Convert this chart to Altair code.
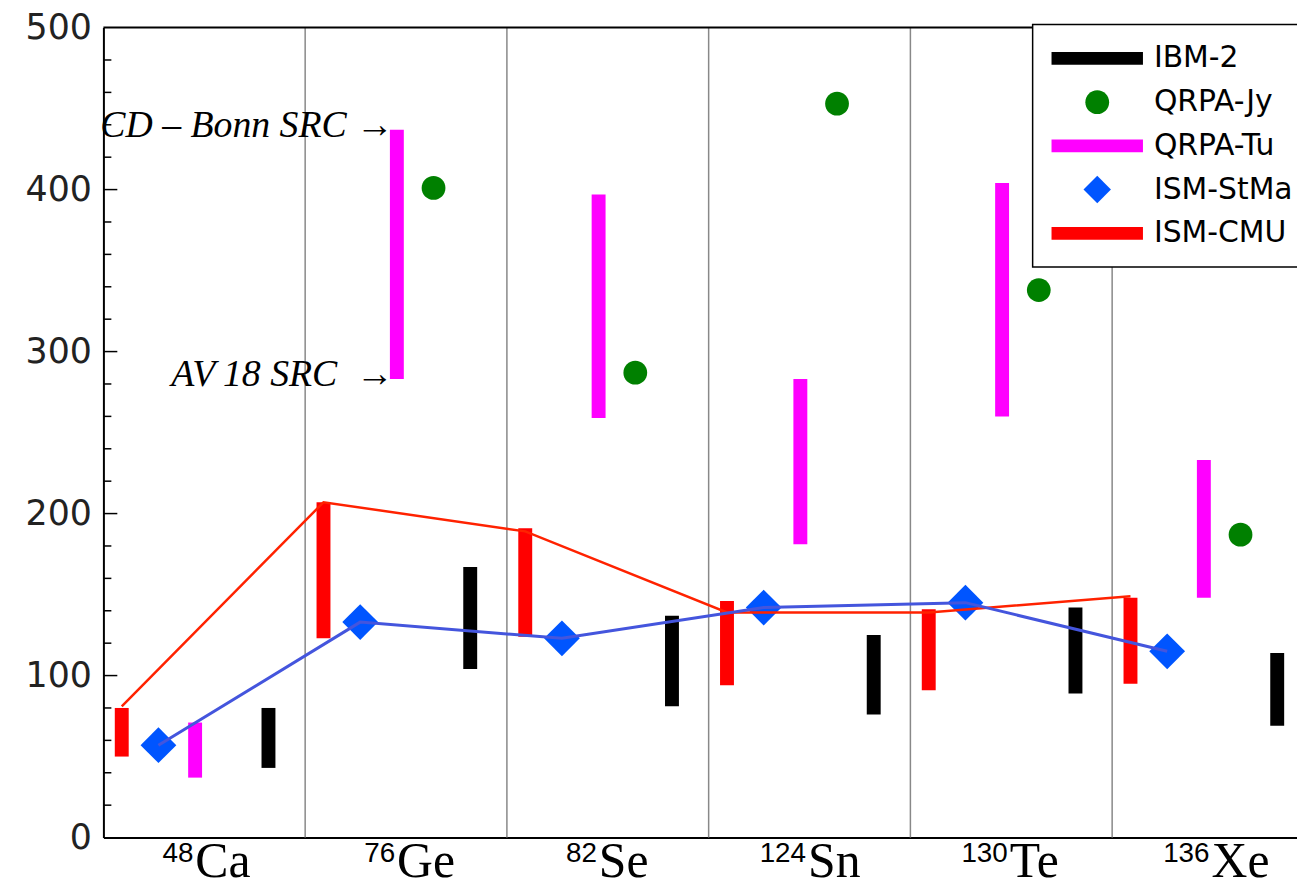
import altair as alt
import pandas as pd

# ---------------- data ----------------
nuclei = ["Ca", "Ge", "Se", "Sn", "Te", "Xe"]
mass_numbers = ["48", "76", "82", "124", "130", "136"]

series_names = ["IBM-2", "QRPA-Jy", "QRPA-Tu", "ISM-StMa", "ISM-CMU"]
series_colors = ["#000000", "#008000", "#ff00ff", "#0055ff", "#ff0000"]

ibm2_low = [43, 104, 81, 76, 89, 69]
ibm2_high = [80, 167, 137, 125, 142, 114]
qrpa_jy = [None, 401, 287, 453, 338, 187]
qrpa_tu_low = [37, 283, 259, 181, 260, 148]
qrpa_tu_high = [71, 437, 397, 283, 404, 233]
ism_stma = [57, 133, 123, 142, 145, 115]
ism_cmu_low = [50, 123, 124, 94, 91, 95]
ism_cmu_high = [80, 207, 191, 146, 141, 148]
ism_cmu_line = [81, 207, 189, 139, 139, 149]

annotations = ["CD \u2013 Bonn SRC \u2192", "AV\u200918\u00a0SRC\u00a0\u00a0\u2192"]

# ---------------- layout helpers ----------------
W, H = 1201, 815
PX_PER_CAT = 203
slot = {"ISM-CMU": 0, "ISM-StMa": 1, "QRPA-Tu": 2, "QRPA-Jy": 3, "IBM-2": 4}
SLOTS = 5.5


def xpos(i, name):
    return i + (slot[name] + 0.5) / SLOTS


range_rows = []
for name, lo, hi in [("IBM-2", ibm2_low, ibm2_high),
                     ("QRPA-Tu", qrpa_tu_low, qrpa_tu_high),
                     ("ISM-CMU", ism_cmu_low, ism_cmu_high)]:
    for i in range(len(nuclei)):
        range_rows.append({"series": name, "x": xpos(i, name), "low": lo[i], "high": hi[i]})
range_df = pd.DataFrame(range_rows)

point_rows = []
for i, v in enumerate(qrpa_jy):
    if v is not None:
        point_rows.append({"series": "QRPA-Jy", "x": xpos(i, "QRPA-Jy"), "y": v})
for i, v in enumerate(ism_stma):
    point_rows.append({"series": "ISM-StMa", "x": xpos(i, "ISM-StMa"), "y": v})
point_df = pd.DataFrame(point_rows)
stma_df = point_df[point_df.series == "ISM-StMa"]

cmu_line_df = pd.DataFrame({"x": [xpos(i, "ISM-CMU") for i in range(6)], "y": ism_cmu_line})
stma_line_df = pd.DataFrame({"x": [xpos(i, "ISM-StMa") for i in range(6)], "y": ism_stma})

bounds_df = pd.DataFrame({"b": list(range(1, len(nuclei)))})
minor_df = pd.DataFrame({"v": [v for v in range(20, 500, 20) if v % 100]})
major_df = pd.DataFrame({"v": [100, 200, 300, 400]})

label_df = pd.DataFrame({"i": list(range(6)), "mass": mass_numbers, "nuc": nuclei})

annot_df = pd.DataFrame({"label": annotations,
                         "x": [xpos(1, "QRPA-Tu")] * 2,
                         "y": [qrpa_tu_high[1], qrpa_tu_low[1]]})

# ---------------- scales / axes ----------------
xs = alt.Scale(domain=[0, W / PX_PER_CAT], nice=False, zero=False)
ys = alt.Scale(domain=[0, 500], nice=False, zero=False)
x_axis = alt.Axis(title=None, labels=False, ticks=False, grid=False,
                  domainColor="black", domainWidth=2)
y_axis = alt.Axis(title=None, values=[0, 100, 200, 300, 400, 500], ticks=False, grid=False,
                  labelFont="DejaVu Sans", labelFontSize=35, labelColor="#222222",
                  labelPadding=12, labelFlush=False, domainColor="black", domainWidth=2)


def X(field):
    return alt.X(field, type="quantitative", scale=xs, axis=x_axis)


def Y(field):
    return alt.Y(field, type="quantitative", scale=ys, axis=y_axis)


shape_paths = [
    "M-1,-0.14L1,-0.14L1,0.14L-1,0.14Z",
    "M0.26,0A0.26,0.26,0,1,1,-0.26,0A0.26,0.26,0,1,1,0.26,0Z",
    "M-1,-0.14L1,-0.14L1,0.14L-1,0.14Z",
    "M0,-0.3L0.3,0L0,0.3L-0.3,0Z",
    "M-1,-0.14L1,-0.14L1,0.14L-1,0.14Z",
]
color_scale = alt.Scale(domain=series_names, range=series_colors)
shape_scale = alt.Scale(domain=series_names, range=shape_paths)

legend = alt.Legend(title=None, orient="none", legendX=935, legendY=-3,
                    symbolSize=8464, clipHeight=44, rowPadding=0,
                    labelFont="DejaVu Sans", labelFontSize=30, labelColor="black",
                    labelOffset=11, labelLimit=500, padding=12, symbolOffset=7,
                    strokeColor="black", fillColor="white", symbolStrokeWidth=0,
                    symbolOpacity=1)

# ---------------- layers ----------------
grid = alt.Chart(bounds_df).mark_rule(color="#888888", strokeWidth=1.5).encode(
    x=X("b"), y=alt.Y(datum=0, scale=ys, axis=y_axis), y2=alt.Y2(datum=500))

top_frame = alt.Chart(bounds_df.head(1)).mark_rule(color="black", strokeWidth=2).encode(
    y=alt.Y(datum=500, scale=ys, axis=y_axis))

minor_ticks = alt.Chart(minor_df).mark_rule(color="black", strokeWidth=1.5).encode(
    y=Y("v"), x=alt.value(0), x2=alt.value(8))
major_ticks = alt.Chart(major_df).mark_rule(color="black", strokeWidth=1.5).encode(
    y=Y("v"), x=alt.value(0), x2=alt.value(14))

# points layer carries the legend (color + shape merged)
points = alt.Chart(point_df).mark_point(filled=True, size=8464, opacity=1, strokeWidth=0).encode(
    x=X("x"), y=Y("y"),
    color=alt.Color("series:N", scale=color_scale, legend=legend),
    shape=alt.Shape("series:N", scale=shape_scale, legend=legend))

bars = alt.Chart(range_df).mark_rule(strokeWidth=14, strokeCap="butt").encode(
    x=X("x"), y=Y("low"), y2="high",
    color=alt.Color("series:N", scale=color_scale, legend=legend))

diamonds = alt.Chart(stma_df).mark_point(shape="diamond", filled=True, size=1296,
                                         color="#0055ff", opacity=1, strokeWidth=0).encode(
    x=X("x"), y=Y("y"))

red_line = alt.Chart(cmu_line_df).mark_line(color="#ff2200", strokeWidth=2.5).encode(
    x=X("x"), y=Y("y"))
blue_line = alt.Chart(stma_line_df).mark_line(color="#4455dd", strokeWidth=3).encode(
    x=X("x"), y=Y("y"))

annot = alt.Chart(annot_df).mark_text(align="right", baseline="middle", dx=-3, dy=-4,
                                      font="Liberation Serif", fontStyle="italic",
                                      fontSize=38, color="black").encode(
    x=X("x"), y=Y("y"), text="label:N")

mass_text = alt.Chart(label_df).transform_calculate(
    xs_="datum.i + 0.5 + (length(datum.mass) * 15 - 52) / 406"
).mark_text(align="right", baseline="alphabetic", font="Liberation Sans",
            fontSize=28, color="black").encode(
    x=X("xs_"), y=alt.value(H + 25), text="mass:N")

nuc_text = alt.Chart(label_df).transform_calculate(
    xs_="datum.i + 0.5 + (length(datum.mass) * 15 - 52) / 406"
).mark_text(align="left", baseline="alphabetic", font="Liberation Serif",
            fontSize=50, color="black", dx=2).encode(
    x=X("xs_"), y=alt.value(H + 40), text="nuc:N")

chart = alt.layer(
    grid, top_frame, minor_ticks, major_ticks, points, bars, diamonds,
    red_line, blue_line, annot, mass_text, nuc_text
).properties(
    width=W, height=H,
    autosize=alt.AutoSizeParams(type="none"),
    padding={"left": 96, "top": 17, "right": 0, "bottom": 42},
    background="white",
).configure_view(stroke=None).configure_legend(strokeWidth=1.5)

chart.save("out.html", embed_options={"renderer": "svg", "actions": False})
